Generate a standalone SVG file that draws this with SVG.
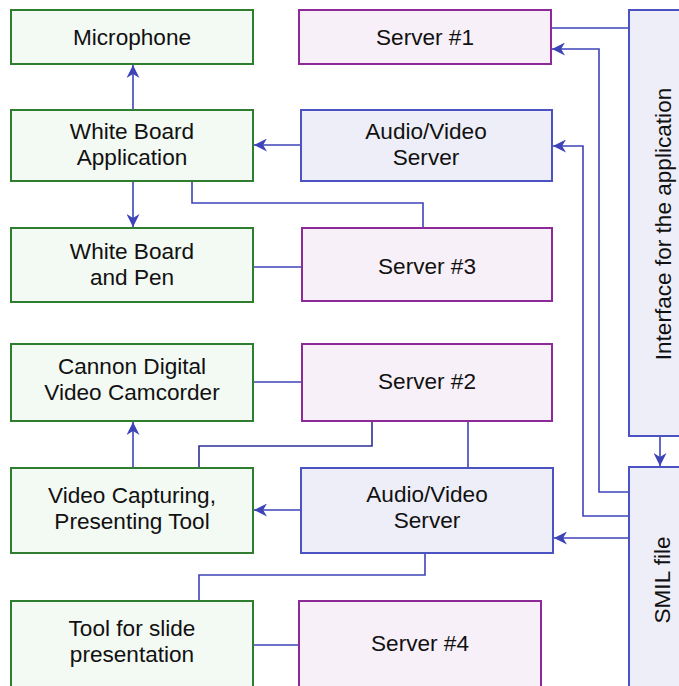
<svg xmlns="http://www.w3.org/2000/svg" width="679" height="686" viewBox="0 0 679 686">
<defs>
<style>
.g rect{fill:#f3f9f3;stroke:#2f7d2f;stroke-width:2}
.p rect{fill:#f8f0f8;stroke:#8e2a98;stroke-width:2}
.b rect{fill:#eeeef8;stroke:#4b52c2;stroke-width:2}
text{font-family:"Liberation Sans",Arial,sans-serif;font-size:22.6px;fill:#111;text-anchor:middle}
#connectors path{fill:none;stroke:#3c44b8;stroke-width:1.6}
</style>
<marker id="ah" viewBox="0 0 10 10" refX="10" refY="5" markerWidth="14" markerHeight="13" markerUnits="userSpaceOnUse" orient="auto">
<path d="M0,0 L10,5 L0,10 L3,5 Z" fill="#3c44b8"/>
</marker>
</defs>
<rect width="679" height="686" fill="#fff"/>
<g id="connectors">
<path d="M133,110 V65" marker-end="url(#ah)"/>
<path d="M301,145 H254" marker-end="url(#ah)"/>
<path d="M133,181 V227" marker-end="url(#ah)"/>
<path d="M192,181 V203 H423 V228"/>
<path d="M253,267 H302"/>
<path d="M253,382 H302"/>
<path d="M133,468 V422" marker-end="url(#ah)"/>
<path d="M199,468 V446 H372 V421" style="stroke:#2c3196"/>
<path d="M468,421 V468"/>
<path d="M301,510 H254" marker-end="url(#ah)"/>
<path d="M425,553 V575 H199 V601"/>
<path d="M253,645 H299"/>
<path d="M551,28 H629"/>
<path d="M629,492 H599 V49 H552" marker-end="url(#ah)"/>
<path d="M629,516 H583 V146 H553" marker-end="url(#ah)"/>
<path d="M629,538 H554" marker-end="url(#ah)"/>
<path d="M660,436 V466" marker-end="url(#ah)"/>
</g>
<g id="microphone" class="g"><rect x="11" y="10" width="242" height="54"/><text x="132" y="45">Microphone</text></g>
<g id="wb-app" class="g"><rect x="11" y="110" width="242" height="71"/><text x="132" y="139">White Board</text><text x="132" y="165">Application</text></g>
<g id="wb-pen" class="g"><rect x="11" y="228" width="242" height="74"/><text x="132" y="259">White Board</text><text x="132" y="285">and Pen</text></g>
<g id="camcorder" class="g"><rect x="11" y="344" width="242" height="77"/><text x="132" y="374">Cannon Digital</text><text x="132" y="400">Video Camcorder</text></g>
<g id="video-tool" class="g"><rect x="11" y="468" width="242" height="85"/><text x="132" y="503">Video Capturing,</text><text x="132" y="529">Presenting Tool</text></g>
<g id="slide-tool" class="g"><rect x="11" y="601" width="242" height="95"/><text x="132" y="636">Tool for slide</text><text x="132" y="662">presentation</text></g>
<g id="server1" class="p"><rect x="299" y="10" width="252" height="54"/><text x="425" y="45">Server #1</text></g>
<g id="av-server1" class="b"><rect x="301" y="110" width="251" height="71"/><text x="426" y="139">Audio/Video</text><text x="426" y="165">Server</text></g>
<g id="server3" class="p"><rect x="302" y="228" width="250" height="73"/><text x="427" y="274">Server #3</text></g>
<g id="server2" class="p"><rect x="302" y="344" width="250" height="77"/><text x="427" y="389">Server #2</text></g>
<g id="av-server2" class="b"><rect x="301" y="468" width="252" height="85"/><text x="427" y="502">Audio/Video</text><text x="427" y="528">Server</text></g>
<g id="server4" class="p"><rect x="299" y="601" width="242" height="95"/><text x="420" y="651">Server #4</text></g>
<g id="interface" class="b"><rect x="629" y="10" width="60" height="426"/><text transform="translate(671,224) rotate(-90)">Interface for the application</text></g>
<g id="smil" class="b"><rect x="629" y="467" width="60" height="230"/><text transform="translate(670,580) rotate(-90)">SMIL file</text></g>
</svg>
